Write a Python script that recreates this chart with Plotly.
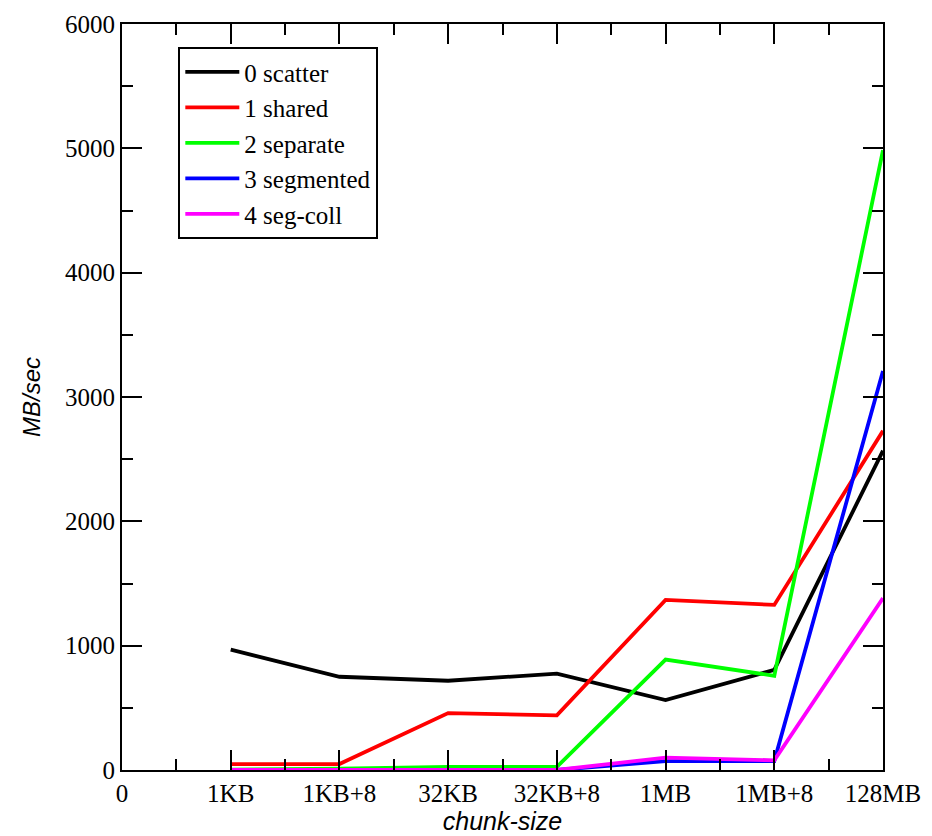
import plotly.graph_objects as go

tick_labels = ["0", "1KB", "1KB+8", "32KB", "32KB+8", "1MB", "1MB+8", "128MB"]
chunk_sizes = ["1KB", "1KB+8", "32KB", "32KB+8", "1MB", "1MB+8", "128MB"]

scatter = [968, 750, 718, 775, 562, 805, 2568]
shared = [48, 48, 458, 440, 1368, 1328, 2728]
separate = [3, 10, 25, 25, 888, 758, 4985]
segmented = [0, 0, 0, 0, 72, 72, 3210]
seg_coll = [0, 0, 0, 0, 100, 78, 1382]

series = [
    ("0 scatter", scatter, "#000000"),
    ("1 shared", shared, "#ff0000"),
    ("2 separate", separate, "#00ff00"),
    ("3 segmented", segmented, "#0000ff"),
    ("4 seg-coll", seg_coll, "#ff00ff"),
]

xpos = [tick_labels.index(c) for c in chunk_sizes]

fig = go.Figure()
for name, vals, col in series:
    fig.add_trace(go.Scatter(x=xpos, y=vals, mode="lines", name=name,
                             line=dict(color=col, width=3.8)))

serif = "Liberation Serif"
fig.update_layout(
    width=932, height=836,
    margin=dict(l=114, r=57, t=16, b=74, autoexpand=False),
    plot_bgcolor="white", paper_bgcolor="white",
    showlegend=True,
    legend=dict(x=0.074, y=0.969, xanchor="left", yanchor="top",
                bordercolor="black", borderwidth=2, bgcolor="white",
                font=dict(family=serif, size=25, color="black"),
                tracegroupgap=0, itemwidth=54),
)
fig.update_xaxes(
    range=[0, 7], tickmode="array", tickvals=list(range(len(tick_labels))),
    ticktext=tick_labels, ticks="inside", ticklen=20, tickwidth=1.5, tickcolor="black",
    showline=True, linecolor="black", linewidth=2, mirror="ticks",
    showgrid=False, zeroline=False, automargin=False,
    tickfont=dict(family=serif, size=25, color="black"),
    minor=dict(tickvals=[0.5 + i for i in range(7)], ticks="inside", ticklen=11,
               tickwidth=1.5, tickcolor="black", showgrid=False),
    title=dict(text="<i>chunk-size</i>", font=dict(family="Liberation Sans", size=25, color="black"),
               standoff=6),
)
fig.update_yaxes(
    range=[0, 6000], tickvals=[0, 1000, 2000, 3000, 4000, 5000, 6000],
    ticks="inside", ticklen=20, tickwidth=1.5, tickcolor="black",
    showline=True, linecolor="black", linewidth=2, mirror="ticks",
    showgrid=False, zeroline=False, automargin=False,
    tickfont=dict(family=serif, size=25, color="black"),
    minor=dict(tickvals=[500, 1500, 2500, 3500, 4500, 5500], ticks="inside", ticklen=11,
               tickwidth=1.5, tickcolor="black", showgrid=False),
    title=dict(text="<i>MB/sec</i>", font=dict(family="Liberation Sans", size=24, color="black"),
               standoff=18),
)

fig.write_html("out.html")
